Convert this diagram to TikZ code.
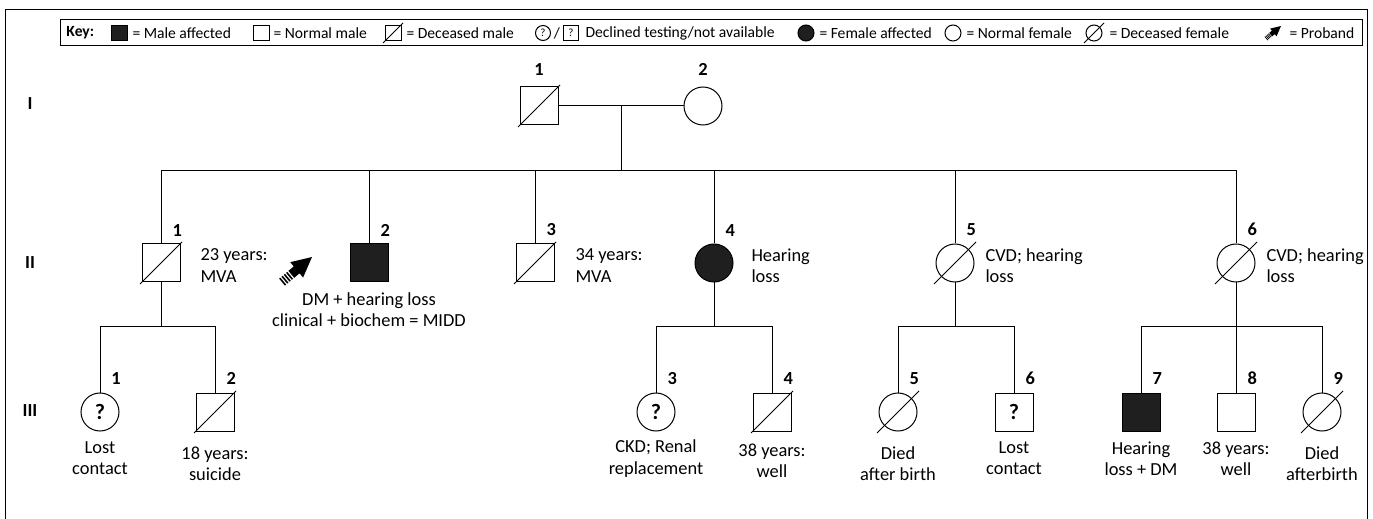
\documentclass[tikz,border=0pt]{standalone}
\usepackage{fontspec}
\setmainfont{Carlito}
\usetikzlibrary{shapes.geometric,calc}

\newcommand\keyfont{\fontsize{7.8}{9}\selectfont}
\newcommand\txtfont{\fontsize{9.2}{10.6}\selectfont}

\tikzset{
	male/.style={draw,rectangle,minimum width=19pt,minimum height=19pt,inner sep=0pt},
	female/.style={draw,circle,minimum size=19pt,inner sep=0pt},
	affected/.style={fill=black!88},
	query/.style={font=\fontsize{11}{11}\selectfont\bfseries},
	num/.style={font=\txtfont\bfseries,anchor=south west,inner sep=0pt},
	note/.style={font=\txtfont,inner sep=0pt},
	keysym/.style={draw,minimum width=8pt,minimum height=7.5pt,inner sep=0pt},
	keytxt/.style={font=\keyfont,inner sep=0pt,anchor=west},
	pics/probarrow/.style={code={
		\fill (0,0) -- (-20,-10) -- (-20,-4.5) -- (-27,-4.5) -- (-27,4.5) -- (-20,4.5) -- (-20,10) -- cycle;
		\foreach \k in {0,...,3}
			\fill ({-28.5-\k*3},-4.5) rectangle ++(-1.6,9);
	}}
}

\begin{document}
\begin{tikzpicture}[x=0.5pt,y=-0.5pt,line width=0.5pt]
	\useasboundingbox (0,0) rectangle (1373,519);
	\draw (5,519) -- (5,10) -- (1367,10) -- (1367,519);
	
	% key
	\draw (60,20) rectangle (1362,46);
	\node[keytxt,font=\keyfont\bfseries] (keyhd) at (66,33) {Key:};
	\node[keysym,affected] (kmaff) at (119,33) {};
	\node[keytxt] (tmaff) at (132,33) {= Male affected};
	\node[keysym] (kmale) at (261,33) {};
	\node[keytxt] (tmale) at (273,33) {= Normal male};
	\node[keysym] (kmdec) at (393,33) {};
	\draw ([shift={(-10,10)}]kmdec.center) -- ([shift={(10,-10)}]kmdec.center);
	\node[keytxt] (tmdec) at (406,33) {= Deceased male};
	\node[keysym,circle,minimum size=7.5pt,font=\fontsize{5.5}{5.5}\selectfont] (kqf) at (543,33) {?};
	\node[keytxt,anchor=center] (tslash) at (557,33) {/};
	\node[keysym,minimum width=7.5pt,font=\fontsize{5.5}{5.5}\selectfont] (kqm) at (571,33) {?};
	\node[keytxt] (tq) at (585,33) {Declined testing/not available};
	\node[keysym,circle,minimum size=8pt,affected] (kfaff) at (806,33) {};
	\node[keytxt] (tfaff) at (819,33) {= Female affected};
	\node[keysym,circle,minimum size=8pt] (kfem) at (953,33) {};
	\node[keytxt] (tfem) at (966,33) {= Normal female};
	\node[keysym,circle,minimum size=8pt] (kfdec) at (1094,33) {};
	\draw ([shift={(-10,10)}]kfdec.center) -- ([shift={(10,-10)}]kfdec.center);
	\node[keytxt] (tfdec) at (1109,33) {= Deceased female};
	\coordinate (kprob) at (1281,26);
	\pic[rotate=40,scale=0.5] at (kprob) {probarrow};
	\node[keytxt] (tprob) at (1289,33) {= Proband};
	
	% generations
	\node[font=\txtfont\bfseries] (gI) at (30,104) {I};
	\node[font=\txtfont\bfseries] (gII) at (30,263) {II};
	\node[font=\txtfont\bfseries] (gIII) at (30,411) {III};
	
	% generation I
	\node[male] (I1) at (539,106) {};
	\node[female] (I2) at (703,106) {};
	\node[num,anchor=south] at ([shift={(0,-10)}]I1.north) {1};
	\node[num,anchor=south] at ([shift={(0,-10)}]I2.north) {2};
	\draw (I1) -- (I2);
	\coordinate (m1) at ($(I1.east)!0.5!(I2.west)$);
	\coordinate (s1) at (m1 |- 0,171);
	\draw (m1) -- (s1);
	
	% generation II
	\node[male] (II1) at (161,263) {};
	\node[male,affected] (II2) at (369,263) {};
	\node[male] (II3) at (535,263) {};
	\node[female,affected] (II4) at (714,263) {};
	\node[female] (II5) at (955,263) {};
	\node[female] (II6) at (1236,263) {};
	\draw (II1.north) |- (II6.north |- s1) -- (II6.north);
	\foreach \n in {II2,II3,II4,II5}
		\draw (\n.north) -- (\n.north |- s1);
	\foreach \n/\i in {II1/1,II2/2,II3/3,II4/4,II5/5,II6/6}
		\node[num] at ([shift={(11,-7)}]\n.north) {\i};
	
	\node[note,anchor=west,align=left] (tII1) at (200,265.5) {23 years:\\MVA};
	\node[note,align=center] (tII2) at (369,309.5) {DM + hearing loss\\clinical + biochem = MIDD};
	\node[note,anchor=west,align=left] (tII3) at (575,265.5) {34 years:\\MVA};
	\node[note,anchor=west,align=left] (tII4) at (751,265.5) {Hearing\\loss};
	\node[note,anchor=west,align=left] (tII5) at (985,265.5) {CVD; hearing\\loss};
	\node[note,anchor=west,align=left] (tII6) at (1266,265.5) {CVD; hearing\\loss};
	\coordinate (prob) at (312,257);
	\pic[rotate=40] at (prob) {probarrow};
	
	% generation III
	\node[female,query] (III1) at (100,412) {?};
	\node[male] (III2) at (215,412) {};
	\node[female,query] (III3) at (656,412) {?};
	\node[male] (III4) at (772,412) {};
	\node[female] (III5) at (898,412) {};
	\node[male,query] (III6) at (1014,412) {?};
	\node[male,affected] (III7) at (1141,412) {};
	\node[male] (III8) at (1236,412) {};
	\node[female] (III9) at (1322,412) {};
	\foreach \n/\i in {III1/1,III2/2,III3/3,III4/4,III5/5,III6/6,III7/7,III8/8,III9/9}
		\node[num] at ([shift={(11,-7)}]\n.north) {\i};
	
	\coordinate (s2) at (II1 |- 0,327);
	\coordinate (s3) at (II4 |- 0,327);
	\coordinate (s4) at (II5 |- 0,327);
	\coordinate (s5) at (II6 |- 0,327);
	\draw (II1) -- (s2);
	\draw (II4) -- (s3);
	\draw (II5) -- (s4);
	\draw (II6) -- (s5);
	\draw (III1.north) |- (III2.north |- s2) -- (III2.north);
	\draw (III3.north) |- (III4.north |- s3) -- (III4.north);
	\draw (III5.north) |- (III6.north |- s4) -- (III6.north);
	\draw (III7.north) |- (III9.north |- s5) -- (III9.north);
	\draw (III8.north) -- (III8.north |- s5);
	
	\node[note,align=center] (tIII1) at (100,458.5) {Lost\\contact};
	\node[note,align=center] (tIII2) at (215,464) {18 years:\\suicide};
	\node[note,align=center] (tIII3) at (656,458.5) {CKD; Renal\\replacement};
	\node[note,align=center] (tIII4) at (772,460.5) {38 years:\\well};
	\node[note,align=center] (tIII5) at (898,464) {Died\\after birth};
	\node[note,align=center] (tIII6) at (1014,458.5) {Lost\\contact};
	\node[note,align=center] (tIII7) at (1141,458.5) {Hearing\\loss + DM};
	\node[note,align=center] (tIII8) at (1236,458.5) {38 years:\\well};
	\node[note,align=center] (tIII9) at (1322,464) {Died\\afterbirth};
	
	% deceased marks
	\foreach \n in {I1,II1,II3,III2,III4,II5,II6,III5,III9}
		\draw ([shift={(-21,21)}]\n.center) -- ([shift={(21,-21)}]\n.center);
	
\end{tikzpicture}
\end{document}
